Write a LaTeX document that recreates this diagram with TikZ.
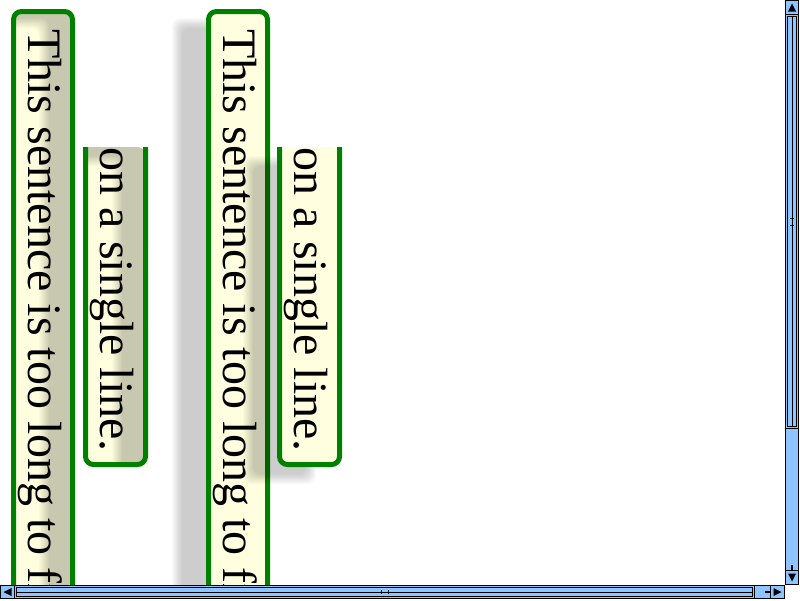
\documentclass[tikz,border=0pt]{standalone}
\usepackage{fontspec}
\setmainfont{Liberation Serif}
\definecolor{boxfill}{RGB}{255,255,224}
\definecolor{boxgreen}{RGB}{0,128,0}
\definecolor{barblue}{RGB}{142,196,255}
\tikzset{
  frame/.style={draw=boxgreen, line width=5pt, rounded corners=8pt},
  lines/.style={font=\fontsize{48}{58}\selectfont, rotate=-90, anchor=base west, inner sep=0pt},
  haze/.style={fill=black, fill opacity=0.02, rounded corners=8pt},
  bar/.style={fill=barblue, draw=black, line width=1pt},
}

\begin{document}
\begin{tikzpicture}[x=1pt, y=-1pt]
   \useasboundingbox (0,0) rectangle (800,600);
   \begin{scope}
   \clip (0,0) rectangle (785,585);
   % left pair, shadow lying inside the boxes
   \begin{scope}
   \clip[rounded corners=8pt] (13.5,11.5) rectangle (72.5,640);
   \fill[boxfill] (0,0) rectangle (100,640);
   \foreach \e in {4,3,...,-6}
      \fill[haze, even odd rule] (-100,-100) rectangle (400,800) (-19-\e,22-\e) rectangle (45+\e,700);
   \end{scope}
   \draw[frame] (13.5,11.5) rectangle (72.5,640);
   \node[lines] (longA) at (28,29) {This sentence is too long to fit};
   \begin{scope}
   \clip (85.5,147) [rounded corners=8pt] -- (85.5,464.5) -- (145.5,464.5) -- (145.5,147) [sharp corners] -- cycle;
   \fill[boxfill] (80,140) rectangle (150,470);
   \foreach \e in {4,3,...,-6}
      \fill[haze, even odd rule] (-100,-100) rectangle (400,800) (53-\e,160-\e) rectangle (118+\e,480+\e);
   \end{scope}
   \draw[frame] (85.5,147) -- (85.5,464.5) -- (145.5,464.5) -- (145.5,147);
   \node[lines] (shortA) at (100,147.5) {on a single line.};
   % right pair, shadow behind the boxes
   \foreach \e in {4,3,...,-6}
      \fill[haze] (176-\e,22-\e) rectangle (240+\e,700);
   \fill[boxfill, rounded corners=8pt] (208.5,11.5) rectangle (267.5,640);
   \draw[frame] (208.5,11.5) rectangle (267.5,640);
   \node[lines] (longB) at (223,29) {This sentence is too long to fit};
   \foreach \e in {4,3,...,-6}
      \fill[haze] (247-\e,160-\e) rectangle (312+\e,480+\e);
   \fill[boxfill] (279.5,147) [rounded corners=8pt] -- (279.5,464.5) -- (339.5,464.5) -- (339.5,147) [sharp corners] -- cycle;
   \draw[frame] (279.5,147) -- (279.5,464.5) -- (339.5,464.5) -- (339.5,147);
   \node[lines] (shortB) at (294,147.5) {on a single line.};
   \end{scope}
   % scroll bars
   \draw[bar] (785.5,0.5) rectangle (798.5,584.5);
   \draw[bar] (785.5,0.5) rectangle (798.5,14.5);
   \fill (788,11.5) -- (792,3.5) -- (796,11.5) -- cycle;
   \draw[bar] (785.5,14.5) rectangle (798.5,428.5);
   \draw (787.5,16.5) rectangle (796.5,426.5);
   \draw (792,16.5) -- (792,426.5);
   \draw (790,218.5) -- (794,218.5) (790,225.5) -- (794,225.5);
   \draw[bar] (785.5,570.5) rectangle (798.5,584.5);
   \fill (788,573.5) -- (796,573.5) -- (792,581.5) -- cycle;
   \draw[line width=2pt] (792,565) -- (792,570);
   \draw[bar] (0.5,585.5) rectangle (784.5,598.5);
   \draw[bar] (0.5,585.5) rectangle (14.5,598.5);
   \fill (3.5,592) -- (11.5,588) -- (11.5,596) -- cycle;
   \draw[bar] (14.5,585.5) rectangle (754.5,598.5);
   \draw (16.5,587.5) rectangle (752.5,596.5);
   \draw (16.5,592) -- (752.5,592);
   \draw (381.5,590) -- (381.5,594) (388.5,590) -- (388.5,594);
   \draw[bar] (770.5,585.5) rectangle (784.5,598.5);
   \fill (773.5,588) -- (781.5,592) -- (773.5,596) -- cycle;
   \draw[line width=2pt] (765,592) -- (770,592);
\end{tikzpicture}
\end{document}
